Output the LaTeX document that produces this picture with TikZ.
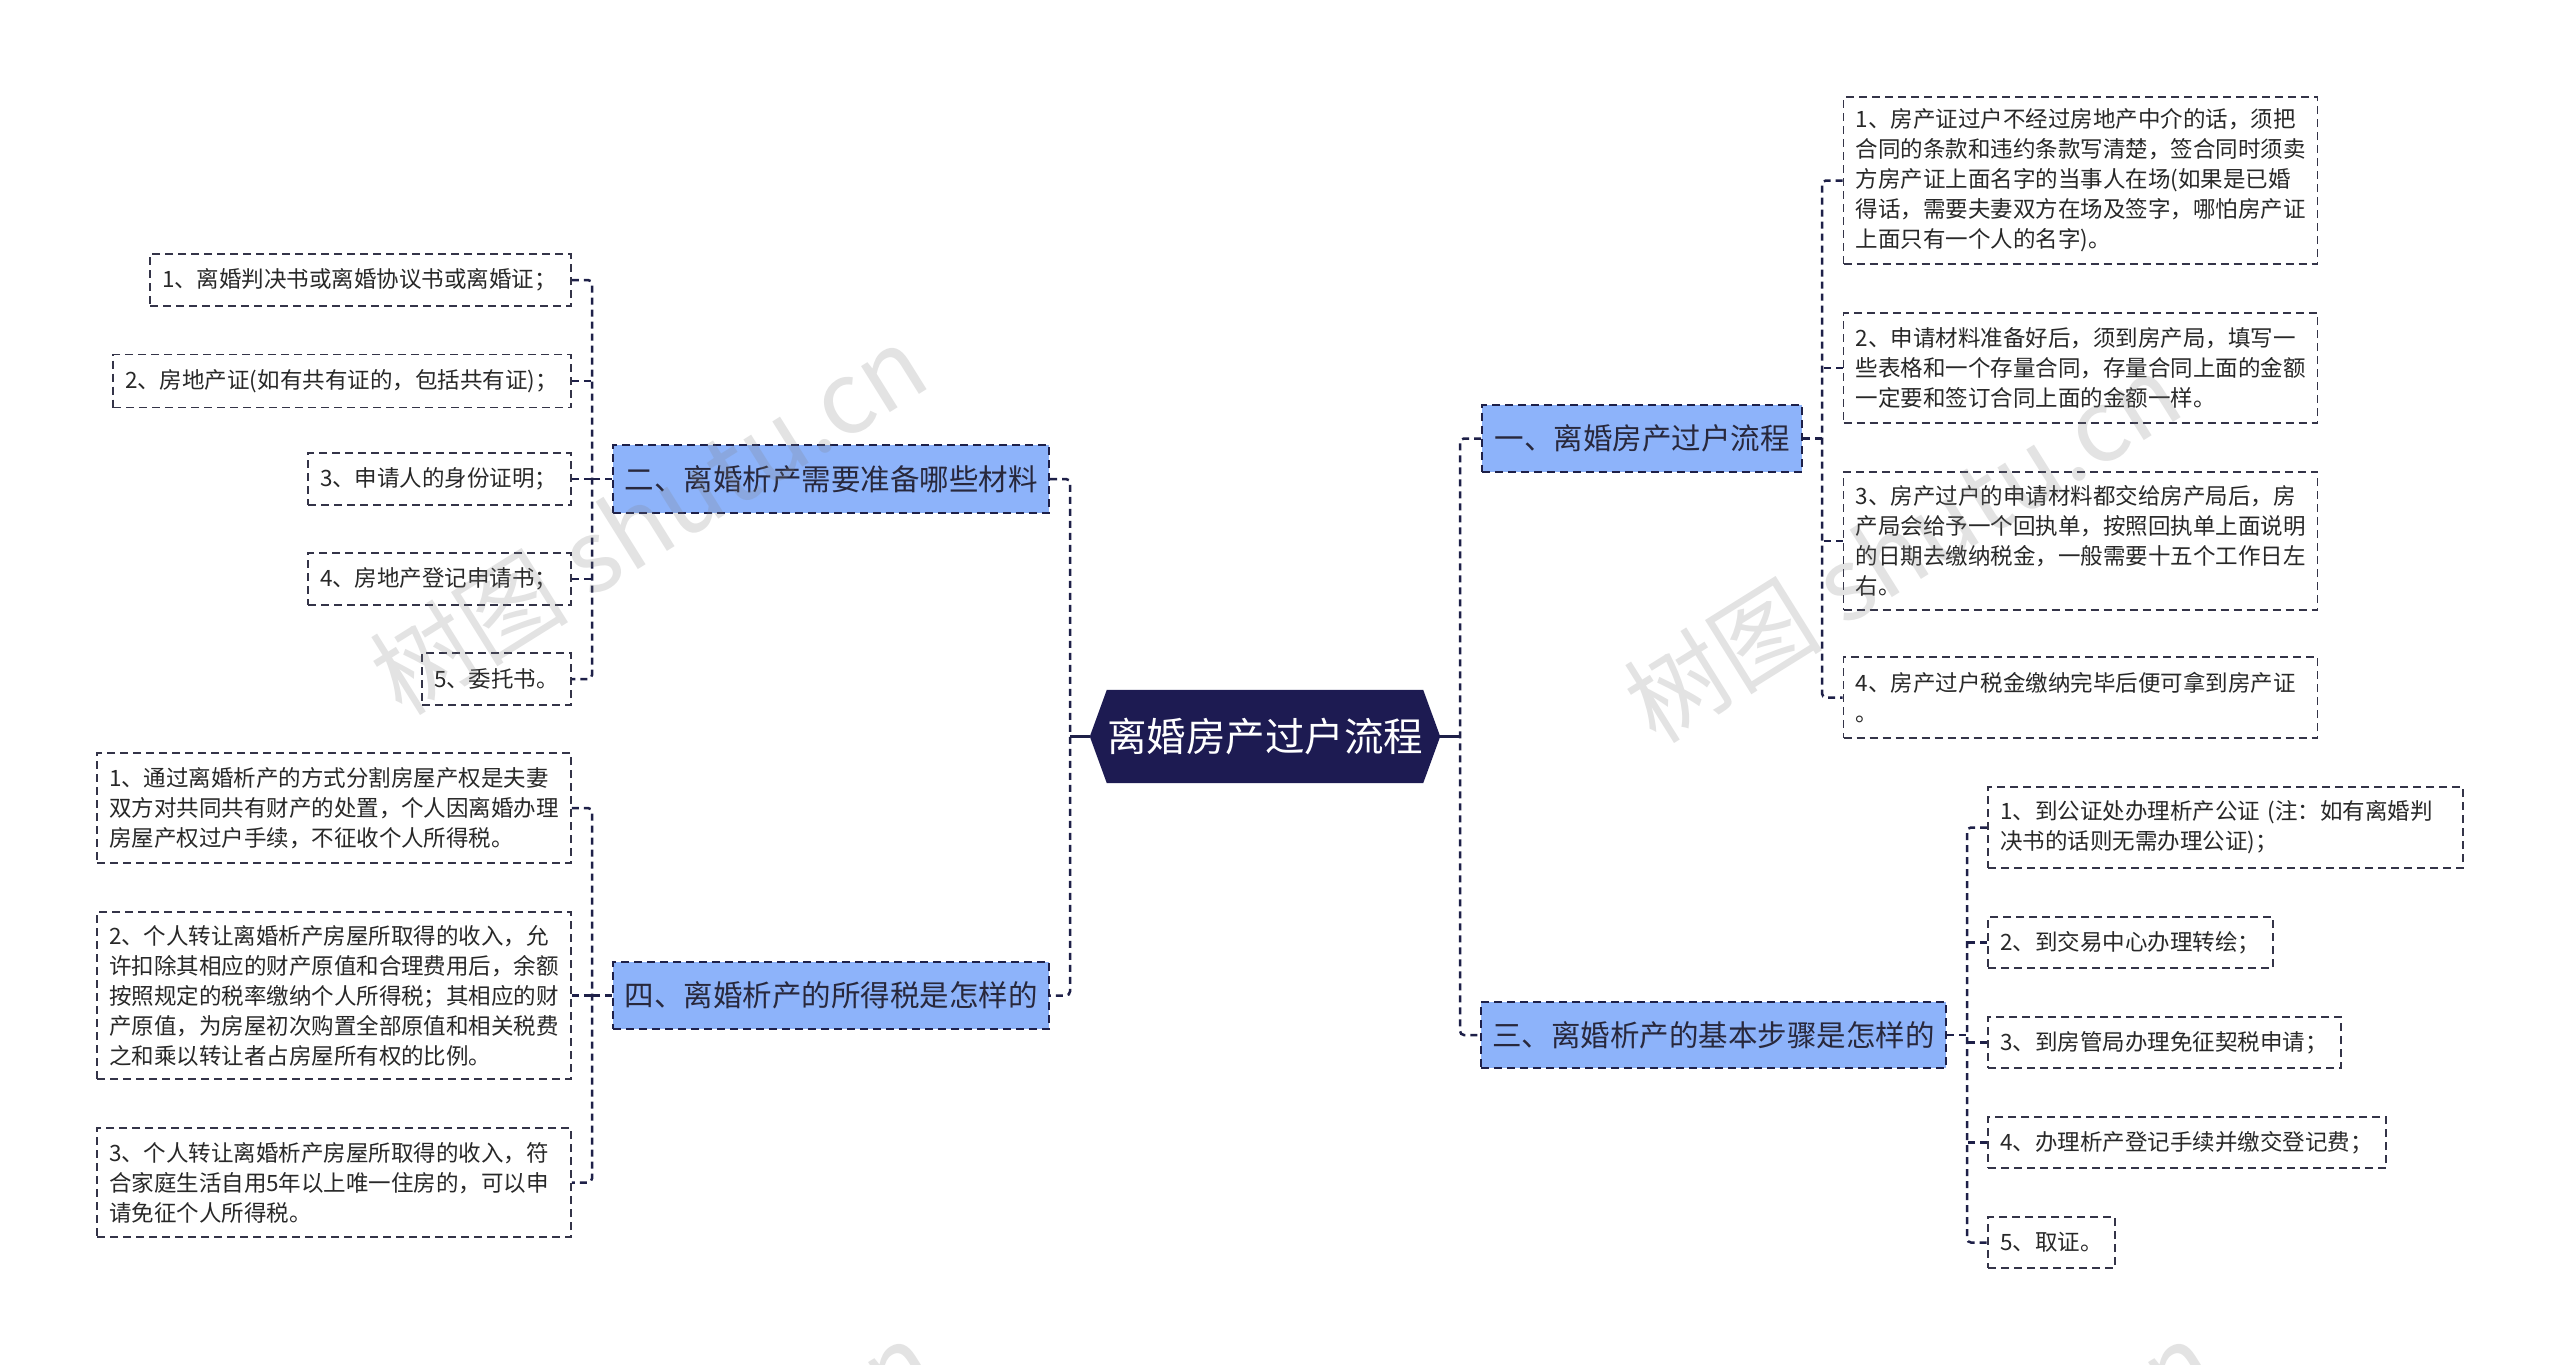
\documentclass[tikz,border=0pt]{standalone}
\usepackage{fontspec}
\setmainfont{Noto Sans CJK SC}
\usetikzlibrary{backgrounds}
\definecolor{rootfill}{RGB}{29,27,82}
\definecolor{bfill}{RGB}{141,179,250}
\definecolor{bline}{RGB}{30,32,72}
\definecolor{leafline}{RGB}{52,52,72}
\definecolor{cline}{RGB}{30,32,72}
\definecolor{textdark}{RGB}{40,40,40}
\definecolor{btext}{RGB}{40,40,60}
\begin{document}
\begin{tikzpicture}[x=1pt,y=-1pt,
  leaf/.style={draw=leafline, dash pattern=on 8pt off 5pt, line width=1.6pt, fill=white,
    text=textdark, font=\fontsize{22.5}{30}\selectfont, align=left, inner xsep=12pt, inner ysep=0pt},
  branch/.style={draw=bline, dash pattern=on 8pt off 5pt, line width=2pt, fill=bfill,
    text=btext, font=\fontsize{29.5}{35}\selectfont, inner sep=0pt},
  rootnode/.style={text=white, font=\fontsize{39.5}{45}\selectfont, inner sep=0pt,
    minimum width=350pt, minimum height=93pt},
  conn/.style={draw=cline, line width=2.5pt, dash pattern=on 7pt off 5pt, rounded corners=4pt},
  wmark/.style={rotate=32, text=black!50, opacity=0.22, font=\fontsize{100}{100}\selectfont, inner sep=0pt}
]
\useasboundingbox (0,0) rectangle (2560,1365);
\begin{scope}[on background layer]
\fill[white] (0,0) rectangle (2560,1365);
\end{scope}

% root
\node[rootnode] (root) at (1265,736.5) {离婚房产过户流程};
\begin{scope}[on background layer]
\fill[rootfill] (root.west) -- ([xshift=17pt]root.north west) -- ([xshift=-17pt]root.north east)
  -- (root.east) -- ([xshift=-17pt]root.south east) -- ([xshift=17pt]root.south west) -- cycle;
\end{scope}

% branches
\node[branch, minimum width=320pt, minimum height=67pt] (b1) at (1642,438.5) {一、离婚房产过户流程};
\node[branch, minimum width=465pt, minimum height=66pt] (b3) at (1713.5,1035) {三、离婚析产的基本步骤是怎样的};
\node[branch, minimum width=436pt, minimum height=68pt] (b2) at (831,479) {二、离婚析产需要准备哪些材料};
\node[branch, minimum width=436pt, minimum height=67pt] (b4) at (831,995.5) {四、离婚析产的所得税是怎样的};

% right leaves of branch 1
\node[leaf, text width=450pt, minimum height=167pt] (r1) at (2080.5,180.5) {1、房产证过户不经过房地产中介的话，须把\\合同的条款和违约条款写清楚，签合同时须卖\\方房产证上面名字的当事人在场(如果是已婚\\得话，需要夫妻双方在场及签字，哪怕房产证\\上面只有一个人的名字)。};
\node[leaf, text width=450pt, minimum height=110pt] (r2) at (2080.5,368) {2、申请材料准备好后，须到房产局，填写一\\些表格和一个存量合同，存量合同上面的金额\\一定要和签订合同上面的金额一样。};
\node[leaf, text width=450pt, minimum height=138pt] (r3) at (2080.5,541) {3、房产过户的申请材料都交给房产局后，房\\产局会给予一个回执单，按照回执单上面说明\\的日期去缴纳税金，一般需要十五个工作日左\\右。};
\node[leaf, text width=450pt, minimum height=81pt] (r4) at (2080.5,697.5) {4、房产过户税金缴纳完毕后便可拿到房产证\\。};

% right leaves of branch 3
\node[leaf, text width=451pt, minimum height=81pt] (s1) at (2225.5,827.5) {1、到公证处办理析产公证~(注：如有离婚判\\决书的话则无需办理公证)；};
\node[leaf, text width=261pt, minimum height=51pt] (s2) at (2130.5,942.5) {2、到交易中心办理转绘；};
\node[leaf, text width=329pt, minimum height=51pt] (s3) at (2164.5,1042.5) {3、到房管局办理免征契税申请；};
\node[leaf, text width=374pt, minimum height=51pt] (s4) at (2187,1142.5) {4、办理析产登记手续并缴交登记费；};
\node[leaf, text width=103pt, minimum height=51pt] (s5) at (2051.5,1242.5) {5、取证。};

% left leaves of branch 2
\node[leaf, text width=397pt, minimum height=52pt] (l1) at (360.5,280) {1、离婚判决书或离婚协议书或离婚证；};
\node[leaf, text width=434pt, minimum height=53pt] (l2) at (342,381) {2、房地产证(如有共有证的，包括共有证)；};
\node[leaf, text width=239pt, minimum height=52pt] (l3) at (439.5,479) {3、申请人的身份证明；};
\node[leaf, text width=239pt, minimum height=52pt] (l4) at (439.5,579) {4、房地产登记申请书；};
\node[leaf, text width=125pt, minimum height=52pt] (l5) at (496.5,679) {5、委托书。};

% left leaves of branch 4
\node[leaf, text width=450pt, minimum height=110pt] (m1) at (334,808) {1、通过离婚析产的方式分割房屋产权是夫妻\\双方对共同共有财产的处置，个人因离婚办理\\房屋产权过户手续，不征收个人所得税。};
\node[leaf, text width=450pt, minimum height=167pt] (m2) at (334,995.5) {2、个人转让离婚析产房屋所取得的收入，允\\许扣除其相应的财产原值和合理费用后，余额\\按照规定的税率缴纳个人所得税；其相应的财\\产原值，为房屋初次购置全部原值和相关税费\\之和乘以转让者占房屋所有权的比例。};
\node[leaf, text width=450pt, minimum height=109pt] (m3) at (334,1182.5) {3、个人转让离婚析产房屋所取得的收入，符\\合家庭生活自用5年以上唯一住房的，可以申\\请免征个人所得税。};

% trunk coordinates
\coordinate (tl) at (1070,736.5);
\coordinate (tr) at (1460,736.5);
\coordinate (t1) at (1822,438.5);
\coordinate (t3) at (1967,1035);
\coordinate (t2) at (592,479);
\coordinate (t4) at (592,995.5);

% main connectors
\draw[draw=cline, line width=2.5pt] (root.west) -- (tl);
\draw[conn] (b2.east) -| (tl) |- (b4.east);
\draw[draw=cline, line width=2.5pt] (root.east) -- (tr);
\draw[conn] (b1.west) -| (tr) |- (b3.west);

% branch 1 leaves
\draw[conn] (b1.east) -- (t1);
\draw[conn] (r1.west) -| (t1) |- (r4.west);
\draw[conn] (r2.west) -- (r2.west -| t1);
\draw[conn] (r3.west) -- (r3.west -| t1);

% branch 3 leaves
\draw[conn] (b3.east) -- (t3);
\draw[conn] (s1.west) -| (t3) |- (s5.west);
\draw[conn] (s2.west) -- (s2.west -| t3);
\draw[conn] (s3.west) -- (s3.west -| t3);
\draw[conn] (s4.west) -- (s4.west -| t3);

% branch 2 leaves
\draw[conn] (b2.west) -- (t2);
\draw[conn] (l1.east) -| (t2) |- (l5.east);
\draw[conn] (l2.east) -- (l2.east -| t2);
\draw[conn] (l3.east) -- (l3.east -| t2);
\draw[conn] (l4.east) -- (l4.east -| t2);

% branch 4 leaves
\draw[conn] (b4.west) -- (t4);
\draw[conn] (m1.east) -| (t4) |- (m3.east);
\draw[conn] (m2.east) -- (m2.east -| t4);

% watermarks
\begin{scope}
\clip (0,0) rectangle (2560,1365);
\node[wmark] (wm1) at (648,519) {树图 shutu.cn};
\node[wmark] (wm2) at (1902,547) {树图 shutu.cn};
\node[wmark] (wm3) at (655,1515) {树图 shutu.cn};
\node[wmark] (wm4) at (1935,1515) {树图 shutu.cn};
\end{scope}
\end{tikzpicture}
\end{document}
